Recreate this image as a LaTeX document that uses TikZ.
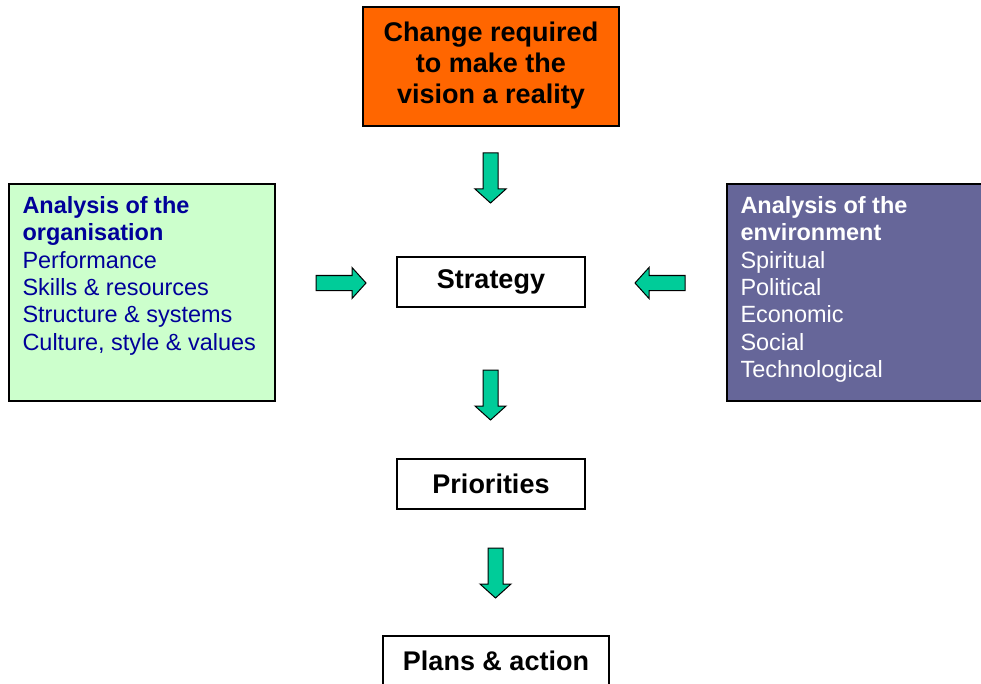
\documentclass[tikz,border=0pt]{standalone}
\usepackage{fontspec}
\setmainfont{Liberation Sans}
\definecolor{orangebox}{HTML}{FF6600}
\definecolor{palegreen}{HTML}{CCFFCC}
\definecolor{slatepurple}{HTML}{666699}
\definecolor{navytext}{HTML}{000099}
\definecolor{arrowgreen}{HTML}{00CC99}

\begin{document}
\begin{tikzpicture}[x=0.75pt,y=-0.75pt]
	\tikzset{
		box/.style={draw,line width=1.1pt,inner sep=0pt},
		bigtext/.style={font=\fontsize{20.25pt}{23.25pt}\selectfont\bfseries,align=center},
		listtext/.style={font=\fontsize{17.6pt}{20.5pt}\selectfont,anchor=north west,inner sep=0pt,align=left},
		fatarrow/.pic={\draw[fill=arrowgreen,line width=0.75pt,line join=miter]
			(-7.5,0)--(7.5,0)--(7.5,36)--(15.5,36)--(0,50)--(-15.5,36)--(-7.5,36)--cycle;}
	}
	\clip (0,0) rectangle (981,684);
	% middle column
	\node[box,fill=orangebox,minimum width=192pt,minimum height=89.25pt] (change) at (491,66.5) {};
	\node[bigtext] (changetext) at (491,65.5) {Change required\\to make the\\vision a reality};
	\node[box,bigtext,minimum width=141pt,minimum height=37.5pt] (strategy) at (491,282) {Strategy};
	\node[box,bigtext,minimum width=141pt,minimum height=37.5pt] (priorities) at (491,484) {Priorities};
	\node[box,bigtext,minimum width=169.5pt,minimum height=37.5pt] (plans) at (496,661) {Plans \& action};
	% side boxes
	\node[box,fill=palegreen,minimum width=199.5pt,minimum height=162.75pt] (org) at (142,292.5) {};
	\node[listtext,text=navytext] (orgtext) at ([shift={(14,13)}]org.north west)
		{\textbf{Analysis of the}\\\textbf{organisation}\\Performance\\Skills \& resources\\Structure \& systems\\Culture, style \& values};
	\node[box,fill=slatepurple,minimum width=199.5pt,minimum height=162.75pt] (env) at (860,292.5) {};
	\node[listtext,text=white] (envtext) at ([shift={(14,13)}]env.north west)
		{\textbf{Analysis of the}\\\textbf{environment}\\Spiritual\\Political\\Economic\\Social\\Technological};
	% block arrows
	\draw
	(490.5,153) pic {fatarrow}
	(490.5,370) pic {fatarrow}
	(495.5,548) pic {fatarrow}
	(316,283) pic[rotate=90] {fatarrow}
	(685,283) pic[rotate=-90] {fatarrow};
\end{tikzpicture}
\end{document}
